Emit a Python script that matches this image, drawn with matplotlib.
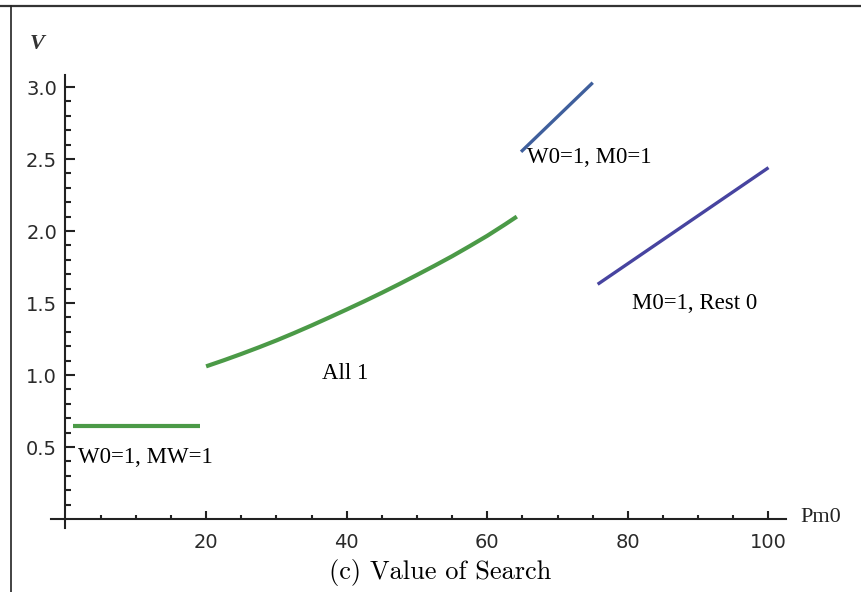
import matplotlib.pyplot as plt
from matplotlib.lines import Line2D
from matplotlib.ticker import FixedLocator, FormatStrFormatter

# value of search V against Pm0, one piece per regime
flat_x = [1, 19.2]
flat_v = [0.645, 0.645]

all1_x = [20, 22.5, 25, 27.5, 30, 32.5, 35, 37.5, 40, 42.5, 45, 47.5,
          50, 52.5, 55, 57.5, 60, 62.5, 64.2]
all1_v = [1.060, 1.102, 1.146, 1.192, 1.240, 1.291, 1.344, 1.399, 1.455, 1.512,
          1.571, 1.632, 1.695, 1.759, 1.825, 1.895, 1.967, 2.045, 2.100]

w0m0_x = [64.8, 75.0]
w0m0_v = [2.55, 3.03]

m0_x = [75.7, 100]
m0_v = [1.63, 2.44]

x_major = [20, 40, 60, 80, 100]
x_minor = [5, 10, 15, 25, 30, 35, 45, 50, 55, 65, 70, 75, 85, 90, 95]
y_major = [0.5, 1.0, 1.5, 2.0, 2.5, 3.0]
y_minor = [i / 10 for i in range(1, 31) if i % 5 != 0]

W, H = 862, 592
fig = plt.figure(figsize=(W / 100, H / 100), dpi=100)

# axes placed so that x=0 sits at 65.5 px and y=0 at 519 px
x0, y0 = 65.5, 519
sx, sy = 7.03, 144
xl, xr = -3, 104
yb, yt = -0.15, 3.2
left = (x0 + xl * sx) / W
width = (xr - xl) * sx / W
bottom = (H - (y0 - yb * sy)) / H
height = (yt - yb) * sy / H
ax = fig.add_axes([left, bottom, width, height])
ax.set_xlim(xl, xr)
ax.set_ylim(yb, yt)

green = '#4b9a47'
ax.plot(flat_x, flat_v, color=green, lw=3.0, solid_capstyle='butt')
ax.plot(all1_x, all1_v, color=green, lw=3.0, solid_capstyle='butt',
        solid_joinstyle='round')
ax.plot(w0m0_x, w0m0_v, color='#3f5f9c', lw=2.4, solid_capstyle='butt')
ax.plot(m0_x, m0_v, color='#4744a0', lw=2.4, solid_capstyle='butt')

for sp in ['top', 'right']:
    ax.spines[sp].set_visible(False)
ax.spines['left'].set_position(('data', 0))
ax.spines['bottom'].set_position(('data', 0))
ax.spines['left'].set_bounds(-0.06, 3.08)
ax.spines['bottom'].set_bounds(-2, 102.5)
for sp in ['left', 'bottom']:
    ax.spines[sp].set_linewidth(1.5)
    ax.spines[sp].set_color('#222222')

ax.xaxis.set_major_locator(FixedLocator(x_major))
ax.xaxis.set_minor_locator(FixedLocator(x_minor))
ax.yaxis.set_major_locator(FixedLocator(y_major))
ax.yaxis.set_minor_locator(FixedLocator(y_minor))
ax.yaxis.set_major_formatter(FormatStrFormatter('%.1f'))

ax.tick_params(axis='both', which='both', direction='in', color='#222222', width=1.5,
               labelsize=14, labelcolor='#2a2a2a')
ax.tick_params(axis='x', which='major', length=5.5, pad=10)
ax.tick_params(axis='x', which='minor', length=3)
ax.tick_params(axis='y', which='major', length=7, pad=6)
ax.tick_params(axis='y', which='minor', length=4.5)

serif = 'Liberation Serif'
ax.text(1.8, 0.43, 'W0=1, MW=1', family=serif, fontsize=16.5, va='center', ha='left')
ax.text(36.5, 1.01, 'All 1', family=serif, fontsize=16.5, va='center', ha='left')
ax.text(65.6, 2.51, 'W0=1, M0=1', family=serif, fontsize=16.5, va='center', ha='left')
ax.text(80.6, 1.50, 'M0=1, Rest 0', family=serif, fontsize=16.5, va='center', ha='left')

fig.text(37 / W, 1 - 44 / H, 'V', family=serif, style='italic', weight='bold',
         fontsize=16, color='#333333', ha='center', va='center')
fig.text(800 / W, 1 - 518 / H, 'Pm0', family=serif, fontsize=16, color='#222222',
         ha='left', va='center')

fig.text(440 / W, 1 - 573 / H, '(c) Value of Search', family='cmr10', fontsize=19,
         ha='center', va='center')

# page frame around the figure
fig.add_artist(Line2D([0, 1], [1 - 5.5 / H] * 2, transform=fig.transFigure,
                      color='#333333', lw=1.6))
fig.add_artist(Line2D([11.5 / W] * 2, [0, 1 - 5.5 / H], transform=fig.transFigure,
                      color='#222222', lw=1.2))

fig.savefig('out.png', dpi=100)
